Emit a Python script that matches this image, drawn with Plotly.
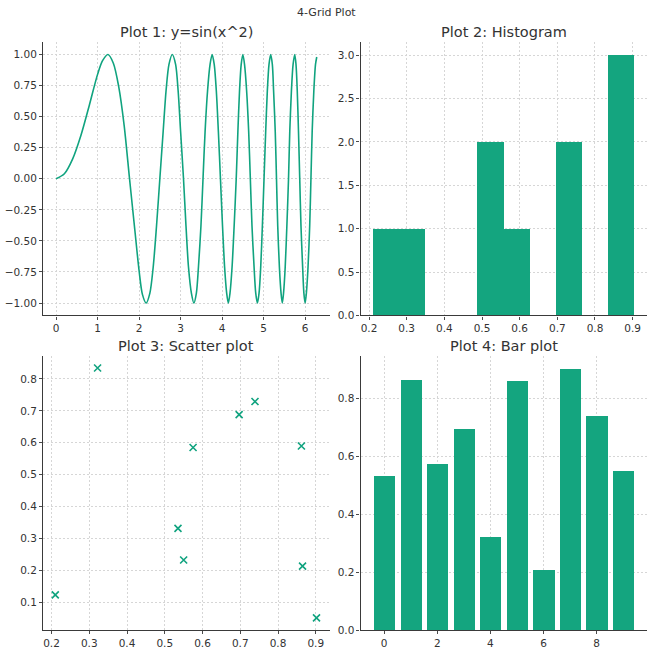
import numpy as np
import plotly.graph_objects as go
from plotly.subplots import make_subplots

GREEN = "#10A37F"
BAR_GREEN = "#14A57F"
TEXT = "#333333"
FONT = "DejaVu Sans"

curve_x = [0, 0.2, 0.4, 0.6, 0.8, 1.0, 1.12, 1.25,
           1.38, 1.51, 1.64, 1.77, 1.90, 2.0, 2.08, 2.17,
           2.26, 2.34, 2.42, 2.5, 2.58, 2.65, 2.72, 2.8,
           2.88, 2.94, 3.0, 3.07, 3.13, 3.19, 3.26, 3.32,
           3.38, 3.43, 3.49, 3.54, 3.59, 3.65, 3.71, 3.76,
           3.81, 3.86, 3.91, 3.96, 4.01, 4.06, 4.11, 4.15,
           4.19, 4.24, 4.29, 4.34, 4.38, 4.42, 4.46, 4.5,
           4.54, 4.59, 4.64, 4.68, 4.72, 4.77, 4.81, 4.85,
           4.89, 4.93, 4.97, 5.01, 5.05, 5.09, 5.13, 5.17,
           5.21, 5.24, 5.28, 5.31, 5.34, 5.38, 5.42, 5.45,
           5.48, 5.52, 5.56, 5.6, 5.63, 5.67, 5.71, 5.75,
           5.78, 5.81, 5.84, 5.87, 5.9, 5.94, 5.97, 6.0,
           6.03, 6.07, 6.11, 6.14, 6.17, 6.21, 6.25, 6.28]
curve_y = [0, 0.04, 0.16, 0.35, 0.59, 0.84, 0.95, 1.0,
           0.93, 0.74, 0.43, 0.0, -0.42, -0.74, -0.93, -1.0,
           -0.92, -0.71, -0.38, 0.0, 0.38, 0.71, 0.92, 1.0,
           0.92, 0.71, 0.38, 0.0, -0.38, -0.71, -0.92, -1.0,
           -0.92, -0.71, -0.38, 0.0, 0.38, 0.71, 0.92, 1.0,
           0.92, 0.71, 0.38, 0.0, -0.38, -0.71, -0.92, -1.0,
           -0.92, -0.71, -0.38, 0.0, 0.38, 0.71, 0.92, 1.0,
           0.92, 0.71, 0.38, 0.0, -0.38, -0.71, -0.92, -1.0,
           -0.92, -0.71, -0.38, 0.0, 0.38, 0.71, 0.92, 1.0,
           0.92, 0.71, 0.38, 0.0, -0.38, -0.71, -0.92, -1.0,
           -0.92, -0.71, -0.38, 0.0, 0.38, 0.71, 0.92, 1.0,
           0.92, 0.71, 0.38, 0.0, -0.38, -0.71, -0.92, -1.0,
           -0.92, -0.71, -0.38, 0.0, 0.38, 0.71, 0.92, 0.98]

# shared random sample (histogram of x, scatter x vs y, bar of x)
data_x = [0.535, 0.865, 0.575, 0.697, 0.322, 0.862, 0.210, 0.902, 0.739, 0.550]
data_y = [0.332, 0.214, 0.585, 0.688, 0.834, 0.590, 0.124, 0.052, 0.729, 0.233]
bar_idx = list(range(len(data_x)))

counts, edges = np.histogram(data_x, bins=10)
centers = (edges[:-1] + edges[1:]) / 2
bin_w = edges[1] - edges[0]

fig = make_subplots(rows=2, cols=2)

fig.add_trace(go.Scatter(x=curve_x, y=curve_y, mode="lines",
                         line=dict(color=GREEN, width=1.6, shape="spline", smoothing=0.8)),
              row=1, col=1)
fig.add_trace(go.Bar(x=centers, y=counts, width=bin_w, marker_color=BAR_GREEN,
                     marker_line_width=0), row=1, col=2)
fig.add_trace(go.Scatter(x=data_x, y=data_y, mode="markers",
                         marker=dict(symbol="x-thin", size=7, color=GREEN,
                                     line=dict(color=GREEN, width=1.6))), row=2, col=1)
fig.add_trace(go.Bar(x=bar_idx, y=data_x, width=0.8, marker_color=BAR_GREEN,
                     marker_line_width=0), row=2, col=2)

axis_style = dict(
    showline=True, linecolor="#3a3a3a", linewidth=1.2, mirror=False,
    ticks="outside", ticklen=3, tickcolor="#4a4a4a", tickwidth=0.8,
    showgrid=True, gridcolor="#d6d6d6", griddash="2px,2px", gridwidth=0.8,
    zeroline=False, tickfont=dict(family=FONT, size=10.5, color=TEXT),
)

fig.update_xaxes(**axis_style)
fig.update_yaxes(**axis_style)

H = 641  # effective drawn height in the screenshot

fig.update_layout(
    width=652, height=649, autosize=False,
    margin=dict(l=0, r=0, t=0, b=0),
    paper_bgcolor="white", plot_bgcolor="white",
    showlegend=False, bargap=0,
    xaxis=dict(domain=[0.066, 0.506], range=[-0.314, 6.597], tickvals=[0, 1, 2, 3, 4, 5, 6]),
    yaxis=dict(domain=[1 - 315 / H, 1 - 42 / H], range=[-1.1, 1.1],
               tickvals=[-1, -0.75, -0.5, -0.25, 0, 0.25, 0.5, 0.75, 1], tickformat=".2f"),
    xaxis2=dict(domain=[0.553, 0.992], range=[0.1775, 0.9375],
                tickvals=[0.2, 0.3, 0.4, 0.5, 0.6, 0.7, 0.8, 0.9], tickformat=".1f"),
    yaxis2=dict(domain=[1 - 315 / H, 1 - 42 / H], range=[0, 3.15],
                tickvals=[0, 0.5, 1, 1.5, 2, 2.5, 3], tickformat=".1f"),
    xaxis3=dict(domain=[0.066, 0.506], range=[0.1775, 0.9375],
                tickvals=[0.2, 0.3, 0.4, 0.5, 0.6, 0.7, 0.8, 0.9], tickformat=".1f"),
    yaxis3=dict(domain=[1 - 629.3 / H, 1 - 355 / H], range=[0.013, 0.873],
                tickvals=[0.1, 0.2, 0.3, 0.4, 0.5, 0.6, 0.7, 0.8], tickformat=".1f"),
    xaxis4=dict(domain=[0.553, 0.992], range=[-0.89, 9.89], tickvals=[0, 2, 4, 6, 8]),
    yaxis4=dict(domain=[1 - 629.3 / H, 1 - 355 / H], range=[0, 0.947],
                tickvals=[0, 0.2, 0.4, 0.6, 0.8], tickformat=".1f"),
)

titles = [
    ("Plot 1: y=sin(x^2)", 0.286, 1 - 31.7 / H),
    ("Plot 2: Histogram", 0.7725, 1 - 31.7 / H),
    ("Plot 3: Scatter plot", 0.286, 1 - 345 / H),
    ("Plot 4: Bar plot", 0.7725, 1 - 345 / H),
]
for text, x, y in titles:
    fig.add_annotation(text=text, x=x, y=y, xref="paper", yref="paper",
                       xanchor="center", yanchor="middle", showarrow=False,
                       font=dict(family=FONT, size=14.5, color=TEXT))

fig.add_annotation(text="4-Grid Plot", x=0.5, y=1 - 12 / H, xref="paper", yref="paper",
                   xanchor="center", yanchor="middle", showarrow=False,
                   font=dict(family=FONT, size=11, color=TEXT))

fig.write_html("out.html", config={"displayModeBar": False},
               post_script="document.body.style.margin='0';")
